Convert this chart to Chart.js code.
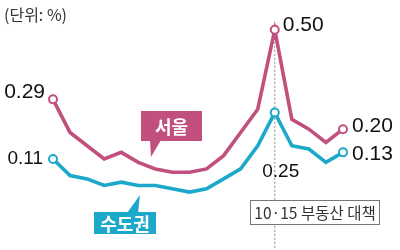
<!DOCTYPE html>
<html>
<head>
<meta charset="utf-8">
<script src="https://cdn.jsdelivr.net/npm/chart.js@4/dist/chart.umd.min.js"></script>
<style>
  html, body { margin: 0; padding: 0; background: #fff; }
  canvas { display: block; }
</style>
</head>
<body>
<canvas id="chart-area" width="400" height="250"></canvas>
<script>
// weekly apartment price change (%)
var weeks = ['W1','W2','W3','W4','W5','W6','W7','W8','W9','W10','W11','W12','W13','W14','W15','W16','W17','W18'];
var seoul = [0.29, 0.19, 0.15, 0.11, 0.13, 0.10, 0.08, 0.07, 0.07, 0.08, 0.12, 0.19, 0.26, 0.50, 0.23, 0.20, 0.16, 0.20];
var capital = [0.11, 0.06, 0.05, 0.03, 0.04, 0.03, 0.03, 0.02, 0.01, 0.02, 0.05, 0.08, 0.15, 0.25, 0.15, 0.14, 0.10, 0.13];
var marked = [0, 13, 17];        // points that get a circle + value
var policyWeek = 13;             // 10.15 measures

var PINK = '#C2507E';
var CYAN = '#1CA8C8';
var NUM_FONT = '"Liberation Sans", Arial, sans-serif';
var KR_FONT = '"Noto Sans CJK KR", "Noto Sans", sans-serif';

function radius(ctx) {
    return marked.indexOf(ctx.dataIndex) >= 0 ? 4 : 0;
}

function text(ctx, str, x, y, font, color, align) {
    ctx.font = font;
    ctx.fillStyle = color;
    ctx.textAlign = align;
    ctx.textBaseline = 'middle';
    ctx.fillText(str, x, y);
}

function bubble(ctx, label, color, box, tip, base) {
    ctx.fillStyle = color;
    ctx.fillRect(box[0], box[1], box[2], box[3]);
    ctx.beginPath();
    ctx.moveTo(base[0], base[2]);
    ctx.lineTo(tip[0], tip[1]);
    ctx.lineTo(base[1], base[2]);
    ctx.closePath();
    ctx.fill();
    text(ctx, label, box[0] + box[2] / 2, box[1] + box[3] / 2 + 1, 'bold 18px ' + KR_FONT, '#fff', 'center');
}

var decorations = {
    id: 'decorations',
    beforeDatasetsDraw: function(chart) {
        var ctx = chart.ctx;
        var p = chart.getDatasetMeta(0).data[policyWeek];
        ctx.save();
        ctx.strokeStyle = '#888';
        ctx.lineWidth = 1;
        ctx.setLineDash([2, 2]);
        ctx.beginPath();
        ctx.moveTo(p.x, p.y);
        ctx.lineTo(p.x, chart.height);
        ctx.stroke();
        ctx.restore();
    },
    afterDatasetsDraw: function(chart) {
        var ctx = chart.ctx;
        var s = chart.getDatasetMeta(0).data;
        var c = chart.getDatasetMeta(1).data;
        var n = seoul.length - 1;
        ctx.save();

        text(ctx, '(단위: %)', 4, 15, '16px ' + KR_FONT, '#333', 'left');

        var big = '21px ' + NUM_FONT;
        var small = '19px ' + NUM_FONT;
        text(ctx, seoul[0].toFixed(2), s[0].x - 8, s[0].y - 7, big, '#111', 'right');
        text(ctx, capital[0].toFixed(2), c[0].x - 10, c[0].y, small, '#111', 'right');
        text(ctx, seoul[policyWeek].toFixed(2), s[policyWeek].x + 8, s[policyWeek].y - 5, big, '#111', 'left');
        text(ctx, capital[policyWeek].toFixed(2), c[policyWeek].x + 6, c[policyWeek].y + 59, small, '#111', 'center');
        text(ctx, seoul[n].toFixed(2), s[n].x + 9, s[n].y - 3, big, '#111', 'left');
        text(ctx, capital[n].toFixed(2), c[n].x + 9, c[n].y + 2, big, '#111', 'left');

        bubble(ctx, '서울', PINK, [141, 111, 61, 30], [151, 157], [150, 161, 140]);
        bubble(ctx, '수도권', CYAN, [94, 212, 62, 22], [140, 195], [127, 138, 213]);

        // policy box
        ctx.fillStyle = '#fff';
        ctx.fillRect(250, 200, 130, 25);
        ctx.strokeStyle = '#777';
        ctx.lineWidth = 1;
        ctx.strokeRect(250.5, 200.5, 129, 24);
        text(ctx, '10·15 부동산 대책', 315, 213, '15.5px ' + KR_FONT, '#333', 'center');

        ctx.restore();
    }
};

var config = {
    type: 'line',
    data: {
        labels: weeks,
        datasets: [{
            label: '서울',
            data: seoul,
            borderColor: PINK,
            borderWidth: 3.6,
            pointRadius: radius,
            pointBackgroundColor: '#fff',
            pointBorderColor: PINK,
            pointBorderWidth: 2,
            tension: 0,
            clip: false
        }, {
            label: '수도권',
            data: capital,
            borderColor: CYAN,
            borderWidth: 3.6,
            pointRadius: radius,
            pointBackgroundColor: '#fff',
            pointBorderColor: CYAN,
            pointBorderWidth: 2,
            tension: 0,
            clip: false
        }]
    },
    options: {
        responsive: false,
        animation: false,
        layout: { padding: { left: 53, right: 57, top: 0, bottom: 0 } },
        plugins: { legend: { display: false }, tooltip: { enabled: false } },
        scales: {
            x: { display: false, offset: false },
            y: { display: false, min: -0.1466, max: 0.5718 }
        }
    },
    plugins: [decorations]
};

var ctx = document.getElementById('chart-area').getContext('2d');
var myChart = new Chart(ctx, config);
</script>
</body>
</html>
